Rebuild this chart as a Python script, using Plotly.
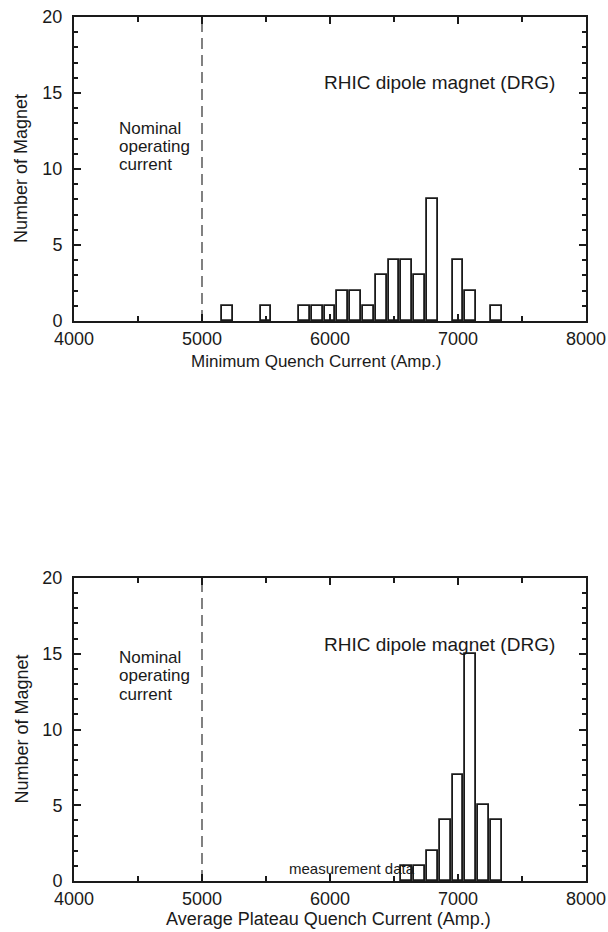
import plotly.graph_objects as go

# ---- data ----
top_bins = [5200, 5500, 5800, 5900, 6000, 6100, 6200, 6300, 6400, 6500, 6600, 6700, 6800, 7000, 7100, 7300]
top_counts = [1, 1, 1, 1, 1, 2, 2, 1, 3, 4, 4, 3, 8, 4, 2, 1]

bot_bins = [6600, 6700, 6800, 6900, 7000, 7100, 7200, 7300]
bot_counts = [1, 1, 2, 4, 7, 15, 5, 4]

x_range = [4000, 8000]
y_range = [0, 20]
nominal_current = 5000
nominal_lines = ["Nominal", "operating", "current"]

W, H = 608, 932
def px(p): return p / W
def py(p): return 1 - p / H

FONT = "Liberation Sans, Arial, sans-serif"
INK = "#1a1a1a"

fig = go.Figure()
bar_style = dict(color="white", line=dict(color=INK, width=1.8))
fig.add_trace(go.Bar(x=top_bins, y=top_counts, width=85, marker=bar_style,
                     xaxis="x", yaxis="y", showlegend=False))
fig.add_trace(go.Bar(x=bot_bins, y=bot_counts, width=85, marker=bar_style,
                     xaxis="x2", yaxis="y2", showlegend=False))
for xa, ya in (("x", "y"), ("x2", "y2")):
    fig.add_trace(go.Scatter(x=[nominal_current, nominal_current], y=y_range, mode="lines",
                             line=dict(color=INK, width=1.1, dash="11px,6px"),
                             xaxis=xa, yaxis=ya, showlegend=False, hoverinfo="skip"))

xdom = [px(74), px(586)]
axis_common = dict(showline=True, linecolor=INK, linewidth=2, mirror="allticks",
                   ticks="inside", tickcolor=INK, ticklen=7, tickwidth=1.5,
                   showgrid=True, gridcolor="rgba(255,255,255,0)", zeroline=False,
                   automargin=False,
                   tickfont=dict(family=FONT, size=18, color=INK))
xax = dict(axis_common, range=x_range, tickmode="linear", tick0=4000, dtick=1000,
           minor=dict(ticks="inside", dtick=500, ticklen=5, tickcolor=INK, tickwidth=1.5),
           domain=xdom)
yax = dict(axis_common, range=y_range, tickmode="linear", tick0=0, dtick=5,
           minor=dict(ticks="inside", dtick=1, ticklen=4, tickcolor=INK, tickwidth=1.5),
           ticklabelstandoff=6)

fig.update_layout(
    template="none",
    width=W, height=H, margin=dict(l=0, r=0, t=0, b=0),
    paper_bgcolor="white", plot_bgcolor="white", bargap=0,
    xaxis=dict(xax, anchor="y"),
    yaxis=dict(yax, domain=[py(321), py(17)], anchor="x"),
    xaxis2=dict(xax, anchor="y2"),
    yaxis2=dict(yax, domain=[py(881), py(578)], anchor="x2"),
    font=dict(family=FONT, color=INK),
)

ann = []
def txt(x, y, s, size=17, xanchor="center", yanchor="middle", xref="paper", yref="paper", angle=0, align="center"):
    ann.append(dict(x=x, y=y, text=s, xref=xref, yref=yref, showarrow=False,
                    xanchor=xanchor, yanchor=yanchor, textangle=angle, align=align,
                    font=dict(family=FONT, size=size, color=INK)))

for (ytop, ybot, nom_y) in ((17, 321, 128), (578, 881, 657)):
    txt(px(439), py(ytop + 66), "RHIC dipole magnet (DRG)", size=19)
    for i, line in enumerate(nominal_lines):
        txt(px(117), py(nom_y + i * 18.5), line, size=17, xanchor="left")
    txt(px(21), py((ytop + ybot) / 2), "Number of Magnet", size=18, angle=-90)
txt(px(316), py(361), "Minimum Quench Current (Amp.)", size=17)
txt(px(328), py(919), "Average Plateau Quench Current (Amp.)", size=18)
txt(6170, 0.85, "measurement data", size=15, xref="x2", yref="y2")

fig.update_layout(annotations=ann)
fig.write_html("out.html")
